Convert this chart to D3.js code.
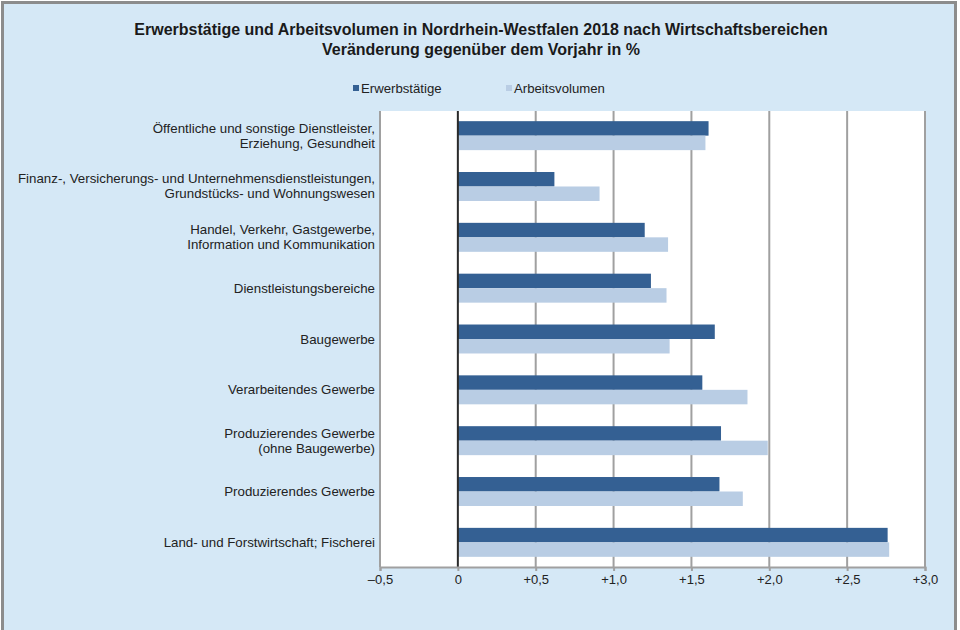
<!DOCTYPE html>
<html lang="de">
<head>
    <meta charset="UTF-8">
    <title>Erwerbstätige und Arbeitsvolumen NRW 2018</title>
    <script src="https://d3js.org/d3.v7.min.js"></script>
    <style>
        body { margin: 0; background: #fff; }
        svg { display: block; font-family: "Liberation Sans", Arial, sans-serif; }
        .title { font-size: 16px; font-weight: bold; fill: #1a1a1a; text-anchor: middle; }
        .cat { font-size: 13.3px; fill: #222; text-anchor: end; }
        .legend text { font-size: 13.2px; fill: #222; }
        .tick text { font-size: 13px; fill: #222; }
    </style>
</head>
<body>
<script>
    // Daten
    const categories = [
        ["Öffentliche und sonstige Dienstleister,", "Erziehung, Gesundheit"],
        ["Finanz-, Versicherungs- und Unternehmensdienstleistungen,", "Grundstücks- und Wohnungswesen"],
        ["Handel, Verkehr, Gastgewerbe,", "Information und Kommunikation"],
        ["Dienstleistungsbereiche"],
        ["Baugewerbe"],
        ["Verarbeitendes Gewerbe"],
        ["Produzierendes Gewerbe", "(ohne Baugewerbe)"],
        ["Produzierendes Gewerbe"],
        ["Land- und Forstwirtschaft; Fischerei"]
    ];
    const erwerbstaetige = [1.61, 0.62, 1.20, 1.24, 1.65, 1.57, 1.69, 1.68, 2.76];
    const arbeitsvolumen = [1.59, 0.91, 1.35, 1.34, 1.36, 1.86, 1.99, 1.83, 2.77];
    const seriesNames = ["Erwerbstätige", "Arbeitsvolumen"];
    const tickValues = [-0.5, 0, 0.5, 1.0, 1.5, 2.0, 2.5, 3.0];
    const tickLabels = ["–0,5", "0", "+0,5", "+1,0", "+1,5", "+2,0", "+2,5", "+3,0"];

    const colors = ["#346093", "#b9cde4"];
    const width = 960, height = 630;
    const plot = { left: 380, right: 925, top: 111, bottom: 567 };

    const svg = d3.select("body").append("svg")
        .attr("width", width)
        .attr("height", height);

    // Hintergrund und Rahmen
    svg.append("rect")
        .attr("x", 0).attr("y", 0)
        .attr("width", width).attr("height", height)
        .attr("fill", "#fff");
    svg.append("rect")
        .attr("x", 2.5).attr("y", 2.5)
        .attr("width", 953).attr("height", 640)
        .attr("fill", "#d5e8f6")
        .attr("stroke", "#8c8c8c")
        .attr("stroke-width", 3);

    // Titel
    svg.append("text").attr("class", "title")
        .attr("x", 481).attr("y", 35)
        .text("Erwerbstätige und Arbeitsvolumen in Nordrhein-Westfalen 2018 nach Wirtschaftsbereichen");
    svg.append("text").attr("class", "title")
        .attr("x", 481).attr("y", 55)
        .text("Veränderung gegenüber dem Vorjahr in %");

    // Legende
    const legendX = [353, 506];
    const legend = svg.append("g").attr("class", "legend");
    seriesNames.forEach((name, i) => {
        legend.append("rect")
            .attr("x", legendX[i]).attr("y", 85)
            .attr("width", 6).attr("height", 6)
            .attr("fill", colors[i]);
        legend.append("text")
            .attr("x", legendX[i] + 8).attr("y", 92.5)
            .text(name);
    });

    // Skalen
    const x = d3.scaleLinear()
        .domain([-0.5, 3.0])
        .range([plot.left, plot.right]);

    const y = d3.scaleBand()
        .domain(d3.range(categories.length))
        .range([plot.top, plot.bottom])
        .paddingInner(0.43)
        .paddingOuter(0.2);

    const ySub = d3.scaleBand()
        .domain([0, 1])
        .range([0, y.bandwidth()]);

    // Zeichenfläche
    svg.append("rect")
        .attr("x", plot.left).attr("y", plot.top)
        .attr("width", plot.right - plot.left)
        .attr("height", plot.bottom - plot.top)
        .attr("fill", "#fff");

    // Gitterlinien
    svg.append("g")
        .selectAll("line")
        .data(tickValues.filter(d => d !== 0))
        .enter()
        .append("line")
        .attr("x1", d => x(d)).attr("x2", d => x(d))
        .attr("y1", plot.top).attr("y2", plot.bottom)
        .attr("stroke", "#a0a0a0")
        .attr("stroke-width", 2);

    // Balken
    const groups = svg.append("g")
        .selectAll("g")
        .data(categories.map((c, i) => [erwerbstaetige[i], arbeitsvolumen[i]]))
        .enter()
        .append("g")
        .attr("transform", (d, i) => `translate(0, ${y(i)})`);

    groups.selectAll("rect")
        .data(d => d)
        .enter()
        .append("rect")
        .attr("x", d => x(Math.min(0, d)))
        .attr("y", (d, j) => ySub(j))
        .attr("width", d => Math.abs(x(d) - x(0)))
        .attr("height", ySub.bandwidth())
        .attr("fill", (d, j) => colors[j]);

    // Nulllinie
    svg.append("line")
        .attr("x1", x(0)).attr("x2", x(0))
        .attr("y1", plot.top).attr("y2", plot.bottom)
        .attr("stroke", "#2a2a2a")
        .attr("stroke-width", 2);

    // x-Achse
    const xAxis = d3.axisBottom(x)
        .tickValues(tickValues)
        .tickFormat((d, i) => tickLabels[i])
        .tickSize(4)
        .tickPadding(4);

    const axisG = svg.append("g")
        .attr("transform", `translate(0, ${plot.bottom})`)
        .call(xAxis);
    axisG.select(".domain").attr("stroke", "#a0a0a0").attr("stroke-width", 2);
    axisG.selectAll(".tick line").attr("stroke", "#a0a0a0").attr("stroke-width", 2);
    axisG.selectAll(".tick text").attr("font-family", null).attr("font-size", null);

    // linke Begrenzung
    svg.append("line")
        .attr("x1", plot.left).attr("x2", plot.left)
        .attr("y1", plot.top).attr("y2", plot.bottom)
        .attr("stroke", "#a0a0a0")
        .attr("stroke-width", 2);

    // Kategorienbeschriftung
    const labels = svg.append("g")
        .selectAll("text")
        .data(categories)
        .enter()
        .append("text")
        .attr("class", "cat")
        .attr("x", 375)
        .attr("y", (d, i) => y(i) + y.bandwidth() / 2 - (d.length - 1) * 7.5 + 4.5);

    labels.selectAll("tspan")
        .data(d => d)
        .enter()
        .append("tspan")
        .attr("x", 375)
        .attr("dy", (d, j) => j === 0 ? 0 : 15)
        .text(d => d);
</script>
</body>
</html>
